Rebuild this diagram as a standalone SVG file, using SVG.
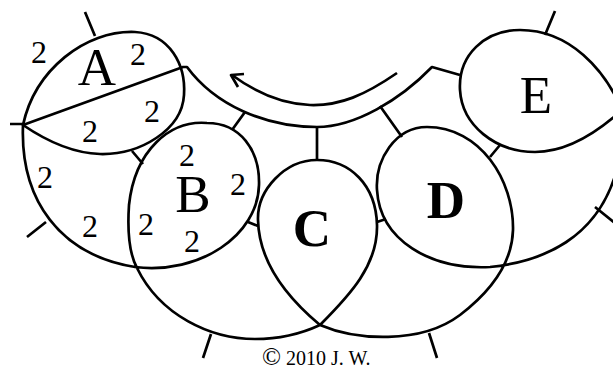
<svg xmlns="http://www.w3.org/2000/svg" width="613" height="369" viewBox="0 0 613 369">
<style>
.ln{fill:none;stroke:#000;stroke-width:2.7;stroke-linejoin:round;stroke-linecap:butt}
.big{font-family:"Liberation Serif","Times New Roman",serif;font-size:53px;text-anchor:middle;fill:#000}
.bold{font-weight:bold}
.two{font-family:"Liberation Serif","Times New Roman",serif;font-size:32px;text-anchor:middle;fill:#000}
.cp{font-family:"Liberation Serif","Times New Roman",serif;font-size:20px;fill:#000}
</style>
<rect width="613" height="369" fill="#fff"/>
<g id="connectors">
<path class="ln" d="M23,125 C20,200 60,255 135,267 C200,275 258,235 259,185 C260,150 240,123 207,123 C170,120 135,150 129,205 C127,235 130,255 137,268 C160,315 210,339 255,339 C285,339 305,332 320,325 C350,295 378,265 377,225 C376,185 350,160 317,160 C285,160 257,190 258,220 C259,265 290,300 320,325 C355,340 420,345 460,315 C490,292 512,265 513,230 C514,180 480,127 427,127 C395,127 375,160 377,190 C380,240 430,270 490,267 C540,262 600,240 618,165 L622,130"/>
<path class="ln" d="M23,125 L183,67 L187,67 C215,105 265,127 317,127 C355,127 400,100 432,67 L460,75"/>
<path class="ln" d="M397,73 C365,95 340,106 310,105 C280,104 255,92 232,75"/>
<path class="ln" d="M244,74 L231,75 L238,87"/>
<path class="ln" d="M85,12 L95,36 M10,124 L23,124 M132,151 L143,164 M245,112 L232,130 M317,127 L317,160 M380,106 L402,137 M490,157 L500,145 M545,35 L555,11 M595,207 L615,223 M248,222 L258,226 M377,222 L386,219 M27,237 L46,222 M203,358 L211,334 M429,333 L437,358"/>
</g>
<g id="A">
<path class="ln" d="M23,125 C35,70 85,30 135,32 C170,34 186,65 184,95 C182,130 140,155 100,154 C70,153 45,140 23,125 Z"/>
<text class="big" x="97" y="85">A</text>
<text class="two" x="39" y="63">2</text>
<text class="two" x="138" y="65">2</text>
<text class="two" x="152" y="122">2</text>
<text class="two" x="90" y="142">2</text>
<text class="two" x="45" y="188">2</text>
<text class="two" x="90" y="237">2</text>
</g>
<g id="B">
<text class="big" x="193" y="212">B</text>
<text class="two" x="146" y="235">2</text>
<text class="two" x="187" y="166">2</text>
<text class="two" x="238" y="195">2</text>
<text class="two" x="192" y="252">2</text>
</g>
<g id="C">
<text class="big bold" x="312" y="246" font-size="50">C</text>
</g>
<g id="D">
<text class="big bold" x="446" y="218" font-size="50">D</text>
</g>
<g id="E">
<path class="ln" d="M460,90 C458,55 485,30 520,30 C570,30 605,70 622,110 C600,130 570,152 535,152 C495,152 462,125 460,90 Z"/>
<text class="big" x="536" y="113">E</text>
</g>
<text class="cp" x="262" y="365"><tspan font-size="25">©</tspan> 2010 J. W.</text>
</svg>
